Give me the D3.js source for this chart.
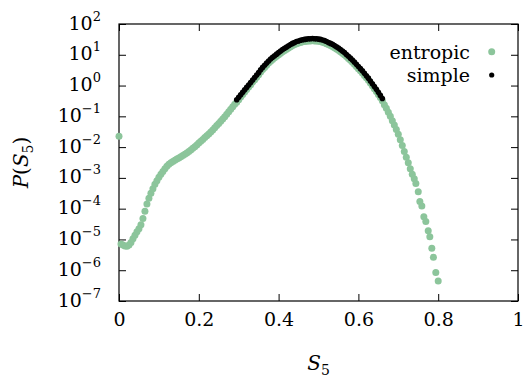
<!DOCTYPE html>
<html>
<head>
<meta charset="utf-8">
<script src="https://cdn.jsdelivr.net/npm/d3@7"></script>
<style>
  body { margin: 0; background: #fff; }
</style>
</head>
<body>
<svg id="chart" width="525" height="386"></svg>
<script>
// entropic sampling histogram, [S5, log10 P]
var entropicPoints = [
  [0.000,-1.65],[0.005,-5.15],[0.010,-5.18],[0.015,-5.21],[0.020,-5.22],[0.025,-5.18],
  [0.030,-5.10],[0.035,-4.98],[0.040,-4.86],[0.045,-4.75],[0.050,-4.65],[0.055,-4.52],
  [0.060,-4.32],[0.065,-4.08],[0.070,-3.85],[0.075,-3.66],[0.080,-3.50],[0.085,-3.35],
  [0.090,-3.21],[0.095,-3.09],[0.100,-2.98],[0.105,-2.88],[0.110,-2.79],[0.115,-2.70],
  [0.120,-2.62],[0.125,-2.56],[0.130,-2.51],[0.135,-2.47],[0.140,-2.43],[0.145,-2.39],
  [0.150,-2.35],[0.155,-2.31],[0.160,-2.27],[0.165,-2.23],[0.170,-2.19],[0.175,-2.14],
  [0.180,-2.09],[0.185,-2.04],[0.190,-1.99],[0.195,-1.93],[0.200,-1.87],[0.205,-1.81],
  [0.210,-1.75],[0.215,-1.69],[0.220,-1.63],[0.225,-1.57],[0.230,-1.51],[0.235,-1.44],
  [0.240,-1.37],[0.245,-1.30],[0.250,-1.23],[0.255,-1.16],[0.260,-1.09],[0.265,-1.01],
  [0.270,-0.93],[0.275,-0.85],[0.280,-0.77],[0.285,-0.69],[0.290,-0.61],[0.295,-0.54],
  [0.300,-0.46],[0.305,-0.37],[0.310,-0.29],[0.315,-0.21],[0.320,-0.13],[0.325,-0.05],
  [0.330,0.03],[0.335,0.11],[0.340,0.19],[0.345,0.27],[0.350,0.35],[0.355,0.44],
  [0.360,0.52],[0.365,0.59],[0.370,0.66],[0.375,0.73],[0.380,0.79],[0.385,0.85],
  [0.390,0.90],[0.395,0.95],[0.400,1.00],[0.405,1.05],[0.410,1.10],[0.415,1.14],
  [0.420,1.18],[0.425,1.22],[0.430,1.26],[0.435,1.30],[0.440,1.33],[0.445,1.36],
  [0.450,1.38],[0.455,1.40],[0.460,1.42],[0.465,1.43],[0.470,1.44],[0.475,1.45],
  [0.480,1.45],[0.485,1.46],[0.490,1.45],[0.495,1.45],[0.500,1.44],[0.505,1.43],
  [0.510,1.41],[0.515,1.39],[0.520,1.36],[0.525,1.33],[0.530,1.30],[0.535,1.27],
  [0.540,1.23],[0.545,1.19],[0.550,1.15],[0.555,1.10],[0.560,1.05],[0.565,1.00],
  [0.570,0.94],[0.575,0.88],[0.580,0.82],[0.585,0.76],[0.590,0.69],[0.595,0.62],
  [0.600,0.55],[0.605,0.48],[0.610,0.41],[0.615,0.33],[0.620,0.25],[0.625,0.17],
  [0.630,0.08],[0.635,-0.01],[0.640,-0.10],[0.645,-0.19],[0.650,-0.29],[0.655,-0.39],
  [0.660,-0.49],[0.665,-0.62],[0.670,-0.74],[0.675,-0.87],[0.680,-1.00],[0.685,-1.14],
  [0.690,-1.28],[0.695,-1.43],[0.700,-1.58],[0.705,-1.76],[0.710,-1.95],[0.715,-2.14],
  [0.720,-2.33],[0.725,-2.51],[0.730,-2.70],[0.735,-2.88],[0.740,-3.03],[0.744,-3.18],
  [0.750,-3.45],[0.754,-3.77],[0.759,-3.91],[0.764,-4.26],[0.769,-4.42],[0.775,-4.72],
  [0.779,-4.91],[0.784,-5.29],[0.788,-5.58],[0.794,-6.07],[0.800,-6.35]
];

// simple sampling histogram, [S5, log10 P]
var simplePoints = [
  [0.295,-0.46],[0.300,-0.38],[0.305,-0.30],[0.310,-0.22],[0.315,-0.14],[0.320,-0.06],
  [0.325,0.02],[0.330,0.10],[0.335,0.18],[0.340,0.26],[0.345,0.34],[0.350,0.42],
  [0.355,0.51],[0.360,0.59],[0.365,0.66],[0.370,0.73],[0.375,0.80],[0.380,0.86],
  [0.385,0.92],[0.390,0.97],[0.395,1.02],[0.400,1.07],[0.405,1.12],[0.410,1.17],
  [0.415,1.21],[0.420,1.25],[0.425,1.29],[0.430,1.33],[0.435,1.37],[0.440,1.40],
  [0.445,1.43],[0.450,1.45],[0.455,1.47],[0.460,1.49],[0.465,1.50],[0.470,1.51],
  [0.475,1.52],[0.480,1.52],[0.485,1.53],[0.490,1.52],[0.495,1.52],[0.500,1.51],
  [0.505,1.50],[0.510,1.48],[0.515,1.46],[0.520,1.43],[0.525,1.40],[0.530,1.37],
  [0.535,1.34],[0.540,1.30],[0.545,1.26],[0.550,1.22],[0.555,1.17],[0.560,1.12],
  [0.565,1.07],[0.570,1.01],[0.575,0.95],[0.580,0.89],[0.585,0.83],[0.590,0.76],
  [0.595,0.69],[0.600,0.62],[0.605,0.55],[0.610,0.48],[0.615,0.40],[0.620,0.32],
  [0.625,0.24],[0.630,0.15],[0.635,0.06],[0.640,-0.03],[0.645,-0.12],[0.650,-0.22],
  [0.655,-0.32],[0.660,-0.42]
];

var xTicks = [0, 0.2, 0.4, 0.6, 0.8, 1];
var xTickLabels = ["0", "0.2", "0.4", "0.6", "0.8", "1"];
var yExponents = [-7, -6, -5, -4, -3, -2, -1, 0, 1, 2];
var legendLabels = ["entropic", "simple"];
var seriesColors = ["#8cc59b", "#000000"];

var serif = "DejaVu Serif";

var margin = { left: 119, right: 7, top: 24, bottom: 85 };
var width = 525, height = 386;
var plotW = width - margin.left - margin.right,
  plotH = height - margin.top - margin.bottom;

var svg = d3.select("#chart").attr("font-family", serif);
var g = svg.append("g").attr("transform", "translate(" + margin.left + "," + margin.top + ")");

var x = d3.scaleLinear().domain([0, 1]).range([0, plotW]);
var y = d3.scaleLog().domain([1e-7, 1e2]).range([plotH, 0]);

var tickLen = 7;

// ticks on all four sides, pointing inward
g.append("g")
  .attr("transform", "translate(0," + plotH + ")")
  .call(d3.axisBottom(x).tickValues(xTicks).tickSizeInner(-tickLen).tickSizeOuter(0).tickPadding(12)
    .tickFormat(function(d, i) { return xTickLabels[i]; }))
  .call(function(a) {
    a.attr("font-family", serif).attr("font-size", 19);
    a.select(".domain").remove();
    a.selectAll("text").attr("fill", "#000");
  });

g.append("g")
  .call(d3.axisTop(x).tickValues(xTicks).tickSizeInner(-tickLen).tickSizeOuter(0).tickFormat(""))
  .call(function(a) { a.select(".domain").remove(); });

var yVals = yExponents.map(function(e) { return Math.pow(10, e); });

g.append("g")
  .call(d3.axisLeft(y).tickValues(yVals).tickSizeInner(-tickLen).tickSizeOuter(0).tickFormat(""))
  .call(function(a) { a.select(".domain").remove(); });

g.append("g")
  .attr("transform", "translate(" + plotW + ",0)")
  .call(d3.axisRight(y).tickValues(yVals).tickSizeInner(-tickLen).tickSizeOuter(0).tickFormat(""))
  .call(function(a) { a.select(".domain").remove(); });

g.selectAll(".tick line").attr("stroke", "#000").attr("stroke-width", 1);

// y labels as 10^n
var yLab = g.append("g")
  .attr("font-family", serif)
  .attr("font-size", 19)
  .selectAll("text")
  .data(yExponents)
  .enter()
  .append("text")
  .attr("x", -18)
  .attr("y", function(d) { return y(Math.pow(10, d)) + 5.5; })
  .attr("text-anchor", "end");

yLab.append("tspan").text("10");
yLab.append("tspan")
  .attr("dy", -9)
  .attr("font-size", 13)
  .text(function(d) { return d < 0 ? "\u2212" + (-d) : "" + d; });

// frame
g.append("rect")
  .attr("width", plotW)
  .attr("height", plotH)
  .attr("fill", "none")
  .attr("stroke", "#000")
  .attr("stroke-width", 1.2);

// data
var marks = g.append("g");

marks.append("g")
  .selectAll("circle")
  .data(entropicPoints)
  .enter()
  .append("circle")
  .attr("cx", function(d) { return x(d[0]); })
  .attr("cy", function(d) { return y(Math.pow(10, d[1])); })
  .attr("r", 3.5)
  .style("fill", seriesColors[0]);

marks.append("g")
  .selectAll("circle")
  .data(simplePoints)
  .enter()
  .append("circle")
  .attr("cx", function(d) { return x(d[0]); })
  .attr("cy", function(d) { return y(Math.pow(10, d[1])); })
  .attr("r", 2.8)
  .style("fill", seriesColors[1]);

// legend
var legend = g.append("g")
  .attr("font-family", serif)
  .attr("font-size", 19)
  .selectAll("g")
  .data(legendLabels)
  .enter()
  .append("g")
  .attr("transform", function(d, i) { return "translate(0," + (27.7 + i * 23.3) + ")"; });

legend.append("text")
  .attr("x", 351)
  .attr("y", 7)
  .attr("text-anchor", "end")
  .text(function(d) { return d; });

legend.append("circle")
  .attr("cx", 372.7)
  .attr("cy", 0)
  .attr("r", function(d, i) { return i == 0 ? 3.5 : 2.6; })
  .style("fill", function(d, i) { return seriesColors[i]; });

// axis titles
var xt = svg.append("text")
  .attr("x", margin.left + plotW / 2)
  .attr("y", 370)
  .attr("text-anchor", "middle")
  .attr("font-size", 20);
xt.append("tspan").attr("font-style", "italic").text("S");
xt.append("tspan").attr("dy", 5).attr("font-size", 14).text("5");

var yt = svg.append("text")
  .attr("transform", "translate(28," + (margin.top + plotH / 2) + ") rotate(-90)")
  .attr("text-anchor", "middle")
  .attr("font-size", 20);
yt.append("tspan").attr("font-style", "italic").text("P");
yt.append("tspan").text("(");
yt.append("tspan").attr("font-style", "italic").text("S");
yt.append("tspan").attr("dy", 5).attr("font-size", 14).text("5");
yt.append("tspan").attr("dy", -5).text(")");
</script>
</body>
</html>
